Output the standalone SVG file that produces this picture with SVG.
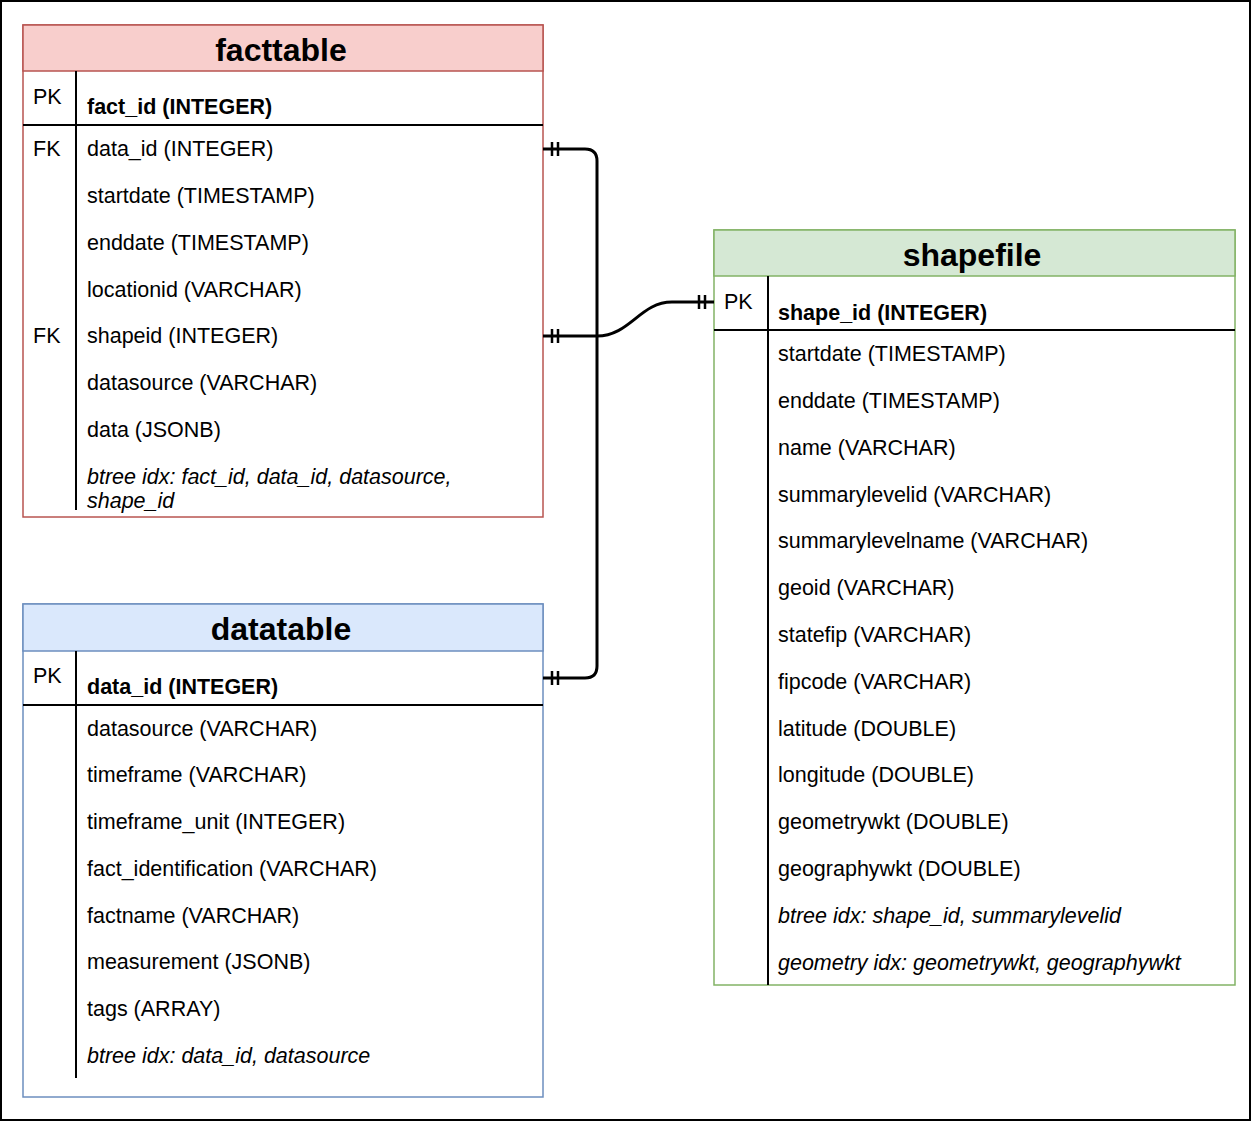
<svg xmlns="http://www.w3.org/2000/svg" width="1252" height="1122" viewBox="0 0 1252 1122">
<style>
text{font-family:"Liberation Sans",Arial,Helvetica,sans-serif;fill:#000;}
.t{font-size:32px;font-weight:bold;text-anchor:middle;}
.f{font-size:21.5px;}
.b{font-size:21.5px;font-weight:bold;}
.i{font-size:21.5px;font-style:italic;}
.div{stroke:#000;stroke-width:2;fill:none;}
.edge{stroke:#000;stroke-width:3;fill:none;}
.bar{stroke:#000;stroke-width:2.5;}
</style>
<rect x="1" y="1" width="1249" height="1119" fill="#fff" stroke="#000" stroke-width="2"/>
<g id="facttable">
<rect x="23" y="25" width="520" height="492" fill="#fff" stroke="#b85450" stroke-width="1.5"/>
<rect x="23" y="25" width="520" height="46" fill="#f8cecc" stroke="#b85450" stroke-width="1.5"/>
<text class="t" x="281" y="61">facttable</text>
<line class="div" x1="23" y1="125" x2="543" y2="125"/>
<line class="div" x1="76" y1="71" x2="76" y2="510"/>
<text class="f" x="33" y="104">PK</text>
<text class="b" x="87" y="114">fact_id (INTEGER)</text>
<text class="f" x="33" y="156">FK</text>
<text class="f" x="87" y="156">data_id (INTEGER)</text>
<text class="f" x="87" y="203">startdate (TIMESTAMP)</text>
<text class="f" x="87" y="250">enddate (TIMESTAMP)</text>
<text class="f" x="87" y="297">locationid (VARCHAR)</text>
<text class="f" x="33" y="343">FK</text>
<text class="f" x="87" y="343">shapeid (INTEGER)</text>
<text class="f" x="87" y="390">datasource (VARCHAR)</text>
<text class="f" x="87" y="437">data (JSONB)</text>
<text class="i" x="87" y="484">btree idx: fact_id, data_id, datasource,</text>
<text class="i" x="87" y="508">shape_id</text>
</g>
<g id="datatable">
<rect x="23" y="604" width="520" height="493" fill="#fff" stroke="#6c8ebf" stroke-width="1.5"/>
<rect x="23" y="604" width="520" height="47" fill="#dae8fc" stroke="#6c8ebf" stroke-width="1.5"/>
<text class="t" x="281" y="640">datatable</text>
<line class="div" x1="23" y1="705" x2="543" y2="705"/>
<line class="div" x1="76" y1="651" x2="76" y2="1078"/>
<text class="f" x="33" y="683">PK</text>
<text class="b" x="87" y="694">data_id (INTEGER)</text>
<text class="f" x="87" y="736">datasource (VARCHAR)</text>
<text class="f" x="87" y="782">timeframe (VARCHAR)</text>
<text class="f" x="87" y="829">timeframe_unit (INTEGER)</text>
<text class="f" x="87" y="876">fact_identification (VARCHAR)</text>
<text class="f" x="87" y="923">factname (VARCHAR)</text>
<text class="f" x="87" y="969">measurement (JSONB)</text>
<text class="f" x="87" y="1016">tags (ARRAY)</text>
<text class="i" x="87" y="1063">btree idx: data_id, datasource</text>
</g>
<g id="shapefile">
<rect x="714" y="230" width="521" height="755" fill="#fff" stroke="#82b366" stroke-width="1.5"/>
<rect x="714" y="230" width="521" height="46" fill="#d5e8d4" stroke="#82b366" stroke-width="1.5"/>
<text class="t" x="972" y="266">shapefile</text>
<line class="div" x1="714" y1="330" x2="1235" y2="330"/>
<line class="div" x1="768" y1="276" x2="768" y2="985"/>
<text class="f" x="724" y="309">PK</text>
<text class="b" x="778" y="320">shape_id (INTEGER)</text>
<text class="f" x="778" y="361">startdate (TIMESTAMP)</text>
<text class="f" x="778" y="408">enddate (TIMESTAMP)</text>
<text class="f" x="778" y="455">name (VARCHAR)</text>
<text class="f" x="778" y="502">summarylevelid (VARCHAR)</text>
<text class="f" x="778" y="548">summarylevelname (VARCHAR)</text>
<text class="f" x="778" y="595">geoid (VARCHAR)</text>
<text class="f" x="778" y="642">statefip (VARCHAR)</text>
<text class="f" x="778" y="689">fipcode (VARCHAR)</text>
<text class="f" x="778" y="736">latitude (DOUBLE)</text>
<text class="f" x="778" y="782">longitude (DOUBLE)</text>
<text class="f" x="778" y="829">geometrywkt (DOUBLE)</text>
<text class="f" x="778" y="876">geographywkt (DOUBLE)</text>
<text class="i" x="778" y="923">btree idx: shape_id, summarylevelid</text>
<text class="i" x="778" y="970">geometry idx: geometrywkt, geographywkt</text>
</g>
<g id="connectors">
<path class="edge" d="M543,149 L585,149 Q597,149 597,161 L597,666 Q597,678 585,678 L543,678"/>
<path class="edge" d="M543,336 L597,336 C630,336 640,302 672,302 L714,302"/>
<line class="bar" x1="552" y1="142" x2="552" y2="156"/>
<line class="bar" x1="558" y1="142" x2="558" y2="156"/>
<line class="bar" x1="552" y1="329" x2="552" y2="343"/>
<line class="bar" x1="558" y1="329" x2="558" y2="343"/>
<line class="bar" x1="552" y1="671" x2="552" y2="685"/>
<line class="bar" x1="558" y1="671" x2="558" y2="685"/>
<line class="bar" x1="699" y1="295" x2="699" y2="309"/>
<line class="bar" x1="705" y1="295" x2="705" y2="309"/>
</g>
</svg>
